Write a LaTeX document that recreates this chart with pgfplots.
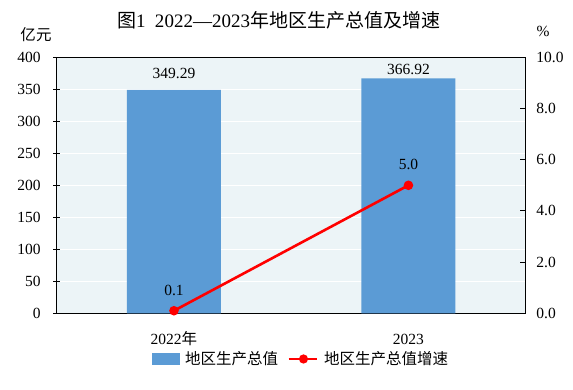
\documentclass[border=0pt]{standalone}
\usepackage{fontspec}
\setmainfont{Liberation Serif}
\newfontfamily\cjk{Noto Sans CJK SC}
\usepackage{pgfplots}
\pgfplotsset{compat=1.18}
\definecolor{barblue}{RGB}{91,155,213}
\definecolor{bgcol}{RGB}{236,244,247}
\definecolor{linered}{RGB}{255,0,0}
\newcommand\fs{\fontsize{15.5bp}{18bp}\selectfont}
\begin{document}
\begin{tikzpicture}
\begin{axis}[name=ax, scale only axis, width=469bp, height=256bp,
  xmin=-0.5, xmax=1.5, ymin=0, ymax=400,
  ytick={0,50,...,400},
  xtick={0,1}, xticklabels={2022{\cjk 年},2023},
  xtick pos=left, ytick pos=left,
  x tick style={draw=none},
  y tick style={black, line width=0.8bp},
  tick align=center, major tick length=7bp,
  axis line style={black, line width=1.1bp},
  axis background/.style={fill=bgcol},
  ymajorgrids, grid style={white, line width=1bp},
  ybar, bar width=94bp,
  tick label style={font=\fs},
  /pgf/number format/assume math mode=true,
  yticklabel style={anchor=east, inner sep=0pt, xshift=-12.5bp},
  xticklabel style={anchor=base, inner sep=0pt, yshift=-24bp},
  clip=false,
]
\addplot[fill=barblue, draw=none] coordinates {(0,349.29) (1,366.92)};
\node[font=\fs] at (axis cs:0,375.5) {349.29};
\node[font=\fs] at (axis cs:1,381.7) {366.92};
\end{axis}
\begin{axis}[scale only axis, width=469bp, height=256bp,
  xmin=-0.5, xmax=1.5, ymin=0, ymax=10,
  axis x line=none, axis y line*=right,
  ytick={0,2,...,10},
  y tick style={black, line width=0.8bp},
  tick align=inside, major tick length=5.7bp,
  axis line style={black, line width=1.1bp},
  yticklabel={\pgfmathprintnumber[fixed, fixed zerofill, precision=1]{\tick}},
  tick label style={font=\fs},
  /pgf/number format/assume math mode=true,
  yticklabel style={anchor=west, inner sep=0pt, xshift=10.5bp},
  clip=false,
  legend style={at={(0.519,-0.1785)}, anchor=center, draw=none, fill=none,
    font=\fs\cjk, legend columns=-1,
    /tikz/every odd column/.append style={column sep=6bp},
    /tikz/every even column/.append style={column sep=9bp},
    nodes={inner sep=0pt}},
]
\addlegendimage{legend image code/.code={\fill[barblue] (0bp,-5.3bp) rectangle (26.7bp,5.3bp);}}
\addlegendentry{地区生产总值}
\addplot[color=linered, line width=2.6bp, mark=*, mark size=3.4bp,
  mark options={fill=linered, draw=linered},
  legend image code/.code={\draw[linered, line width=2.6bp] (0bp,0bp) -- (28.3bp,0bp); \fill[linered] (15bp,0bp) circle (3.2bp);}]
  coordinates {(0,0.1) (1,5.0)};
\addlegendentry{地区生产总值增速}
\node[font=\fs] at (axis cs:0,0.89) {0.1};
\node[font=\fs] at (axis cs:1,5.8) {5.0};
\end{axis}
\node[font=\fontsize{19bp}{22bp}\selectfont] at ([xshift=-12.7bp,yshift=36.5bp]ax.north) {{\cjk 图}1\ \ 2022—2023{\cjk 年地区生产总值及增速}};
\node[font=\fs\cjk] at ([xshift=-20.7bp,yshift=22.6bp]ax.north west) {亿元};
\node[font=\fs] at ([xshift=17.3bp,yshift=25.5bp]ax.north east) {\%};
\path[use as bounding box] ([xshift=-56.7bp,yshift=-76.7bp]ax.south west) rectangle ([xshift=47.3bp,yshift=57.3bp]ax.north east);
\end{tikzpicture}
\end{document}
